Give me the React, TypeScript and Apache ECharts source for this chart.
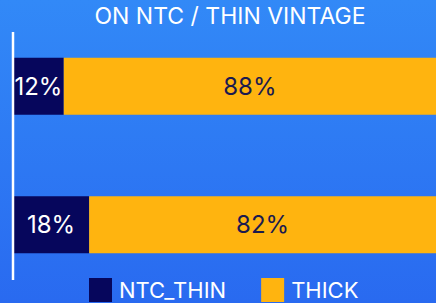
import React, { useEffect, useRef } from "react";
import * as echarts from "echarts";

const categories = ["A", "B"];
const ntcThin = [12, 18];
const thick = [88, 82];
const seriesNames = ["NTC_THIN", "THICK"];
const title = "ON NTC / THIN VINTAGE";

export default function App() {
  const ref = useRef<HTMLDivElement>(null);
  useEffect(() => {
    const chart = echarts.init(ref.current!, null, { renderer: "svg" });
    const font = "Inter, Roboto, sans-serif";
    chart.setOption({
      animation: false,
      backgroundColor: {
        type: "linear", x: 0, y: 0, x2: 0, y2: 1,
        colorStops: [
          { offset: 0, color: "#3289f7" },
          { offset: 1, color: "#296af0" },
        ],
      },
      title: {
        text: title,
        left: 230,
        textAlign: "center",
        top: 3,
        padding: 0,
        textStyle: { color: "#ffffff", fontSize: 23, fontWeight: "normal", fontFamily: font, lineHeight: 26 },
      },
      legend: {
        left: 89,
        top: 278,
        itemWidth: 23,
        itemHeight: 24,
        itemGap: 35,
        icon: "rect",
        padding: 0,
        textStyle: { color: "#ffffff", fontSize: 22, fontFamily: font, lineHeight: 20, padding: [0, 0, 2, 2] },
        data: seriesNames,
      },
      grid: { left: 13, top: 17, width: 440, bottom: 9 },
      xAxis: { type: "value", min: 0, max: 100, show: false },
      yAxis: {
        type: "category",
        data: categories,
        inverse: true,
        axisLine: { show: false },
        axisTick: { show: false },
        axisLabel: { show: false },
      },
      graphic: [
        {
          type: "line",
          shape: { x1: 13, y1: 32, x2: 13, y2: 280 },
          style: { stroke: "#ffffff", lineWidth: 2.5 },
          z: 100,
        },
      ],
      series: [
        {
          name: seriesNames[0],
          type: "bar",
          stack: "t",
          barWidth: 57,
          data: ntcThin,
          itemStyle: { color: "#06065c" },
          label: {
            show: true,
            position: "inside",
            formatter: "{c}%",
            color: "#ffffff",
            fontSize: 24,
            fontFamily: font,
          },
        },
        {
          name: seriesNames[1],
          type: "bar",
          stack: "t",
          barWidth: 57,
          data: thick,
          itemStyle: { color: "#ffb40f" },
          label: {
            show: true,
            position: "inside",
            formatter: "{c}%",
            color: "#1b1a4f",
            fontSize: 24,
            fontFamily: font,
          },
        },
      ],
    });
    return () => chart.dispose();
  }, []);
  return <div ref={ref} style={{ width: 436, height: 303, position: "fixed", left: 0, top: 0 }} />;
}
